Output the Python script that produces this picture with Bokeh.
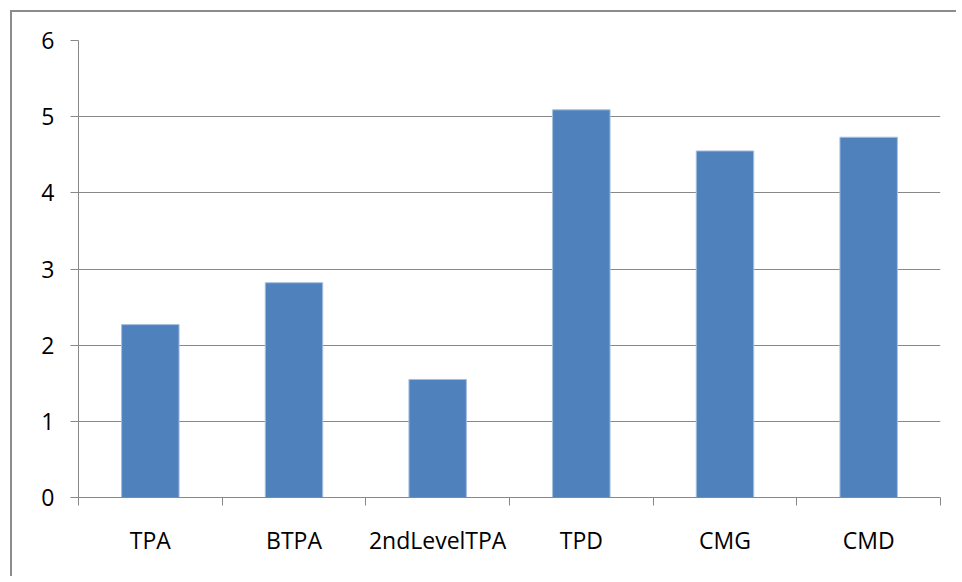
from bokeh.plotting import figure
from bokeh.models import FixedTicker, Range1d
from bokeh.embed import file_html
from bokeh.resources import INLINE

categories = ["TPA", "BTPA", "2ndLevelTPA", "TPD", "CMG", "CMD"]
values = [2.27, 2.82, 1.55, 5.09, 4.55, 4.73]
y_ticks = [0, 1, 2, 3, 4, 5, 6]

centers = [i + 0.5 for i in range(len(categories))]
bounds = list(range(len(categories) + 1))

p = figure(width=946, height=566, output_backend="svg", toolbar_location=None,
           x_range=Range1d(0, len(categories)), y_range=Range1d(0, 6),
           min_border_left=66, min_border_right=18, min_border_top=28, min_border_bottom=81,
           margin=(12, 0, 0, 12))
p.styles = {"box-shadow": "-2px -2px 0 0 #8c8c8c"}
p.outline_line_color = None

p.vbar(x=centers, top=values, width=0.4, bottom=0, fill_color="#4F81BD",
       line_color="#A7BFDE", line_width=1)

grid_color = "#888888"
font = "Open Sans"

p.xgrid.visible = False
p.ygrid.ticker = FixedTicker(ticks=y_ticks)
p.ygrid.grid_line_color = grid_color
p.ygrid.grid_line_width = 1

xa = p.xaxis[0]
xa.ticker = FixedTicker(ticks=centers, minor_ticks=bounds)
xa.major_label_overrides = {c: lab for c, lab in zip(centers, categories)}
xa.major_tick_out = 0
xa.major_tick_in = 0
xa.minor_tick_out = 8
xa.minor_tick_in = 0
xa.minor_tick_line_color = grid_color
xa.axis_line_color = grid_color
xa.major_label_standoff = 18
xa.major_label_text_font = font
xa.major_label_text_font_size = "23px"
xa.major_label_text_color = "#000000"

ya = p.yaxis[0]
ya.ticker = FixedTicker(ticks=y_ticks)
ya.major_tick_out = 8
ya.major_tick_in = 0
ya.minor_tick_out = 0
ya.minor_tick_in = 0
ya.major_tick_line_color = grid_color
ya.axis_line_color = grid_color
ya.major_label_standoff = 16
ya.major_label_text_font = font
ya.major_label_text_font_size = "23px"
ya.major_label_text_color = "#000000"

open("out.html", "w").write(file_html(p, INLINE))
